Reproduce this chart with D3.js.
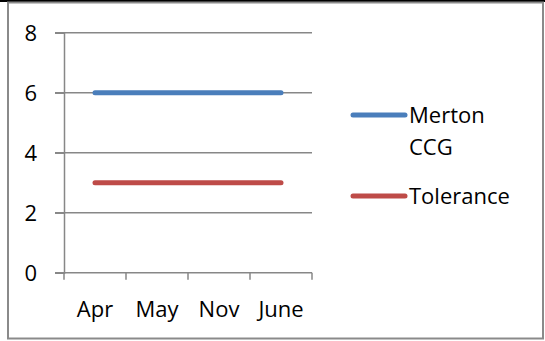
<!DOCTYPE html>
<html>
<head>
<meta charset="utf-8">
<script src="https://cdn.jsdelivr.net/npm/d3@7"></script>
<style>
  html, body { margin: 0; padding: 0; background: #fff; }
  svg { display: block; }
  text { font-family: "Open Sans", "Liberation Sans", sans-serif; fill: #000; }
</style>
</head>
<body>
<svg id="chart" width="545" height="341"></svg>
<script>
// Monthly values
const categories = ["Apr", "May", "Nov", "June"];
const mertonCCG = [6, 6, 6, 6];
const tolerance = [3, 3, 3, 3];
const yTicks = [0, 2, 4, 6, 8];

const series = [
  { name: ["Merton", "CCG"], values: mertonCCG, color: "#4A7EBB" },
  { name: ["Tolerance"], values: tolerance, color: "#BE4B48" }
];

const W = 545, H = 341;
const plot = { left: 64, right: 312, top: 32.7, bottom: 272.7 };
const gridColor = "#878787";
const fontSize = 22;

const svg = d3.select("#chart");

// Frame
svg.append("rect").attr("x", 0).attr("y", 0).attr("width", W).attr("height", 2).attr("fill", "#000");
svg.append("rect")
  .attr("x", 8).attr("y", 2.5).attr("width", 535).attr("height", 336)
  .attr("fill", "none").attr("stroke", "#8a8a8a").attr("stroke-width", 2);

const x = d3.scaleBand().domain(categories).range([plot.left, plot.right]).padding(0);
const y = d3.scaleLinear().domain([0, 8]).range([plot.bottom, plot.top]);

// Horizontal gridlines with left tick stubs
svg.append("g").selectAll("line").data(yTicks.filter(d => d > 0)).join("line")
  .attr("x1", 55).attr("x2", plot.right)
  .attr("y1", d => y(d)).attr("y2", d => y(d))
  .attr("stroke", gridColor).attr("stroke-width", 1.5);

// Y axis
const yAxis = svg.append("g").attr("transform", `translate(${plot.left},0)`)
  .call(d3.axisLeft(y).tickValues(yTicks).tickSize(9).tickPadding(18).tickFormat(d3.format("d")));
yAxis.select(".domain").attr("stroke", gridColor).attr("stroke-width", 1.5);
yAxis.selectAll(".tick line").attr("stroke", gridColor).attr("stroke-width", 1.5);
yAxis.selectAll(".tick text").attr("font-size", fontSize).attr("font-family", "Open Sans").attr("fill", "#000").attr("dy", "0.36em");

// X axis: ticks on category boundaries
const xAxisG = svg.append("g").attr("transform", `translate(0,${plot.bottom})`);
xAxisG.append("line").attr("x1", 55).attr("x2", plot.right).attr("y1", 0).attr("y2", 0)
  .attr("stroke", gridColor).attr("stroke-width", 1.5);
const bounds = categories.map(c => x(c)).concat([x(categories[categories.length - 1]) + x.bandwidth()]);
xAxisG.selectAll("line.tk").data(bounds).join("line").attr("class", "tk")
  .attr("x1", d => d).attr("x2", d => d).attr("y1", 0).attr("y2", 7)
  .attr("stroke", gridColor).attr("stroke-width", 1.5);
xAxisG.selectAll("text").data(categories).join("text")
  .attr("x", d => x(d) + x.bandwidth() / 2).attr("y", 44)
  .attr("text-anchor", "middle").attr("font-size", fontSize).text(d => d);

// Series lines
const line = d3.line().x((d, i) => x(categories[i]) + x.bandwidth() / 2).y(d => y(d));
svg.append("g").selectAll("path").data(series).join("path")
  .attr("d", d => line(d.values))
  .attr("fill", "none").attr("stroke", d => d.color)
  .attr("stroke-width", 5).attr("stroke-linecap", "round");

// Legend
const legendRows = [115, 196];
const lg = svg.append("g").selectAll("g").data(series).join("g")
  .attr("transform", (d, i) => `translate(0,${legendRows[i]})`);
lg.append("line").attr("x1", 353).attr("x2", 405).attr("y1", 0).attr("y2", 0)
  .attr("stroke", d => d.color).attr("stroke-width", 5).attr("stroke-linecap", "round");
lg.append("text").attr("x", 409).attr("y", 0).attr("font-size", fontSize)
  .selectAll("tspan").data(d => d.name).join("tspan")
  .attr("x", 409).attr("dy", (d, i) => i === 0 ? "0.36em" : 32).text(d => d);
</script>
</body>
</html>
